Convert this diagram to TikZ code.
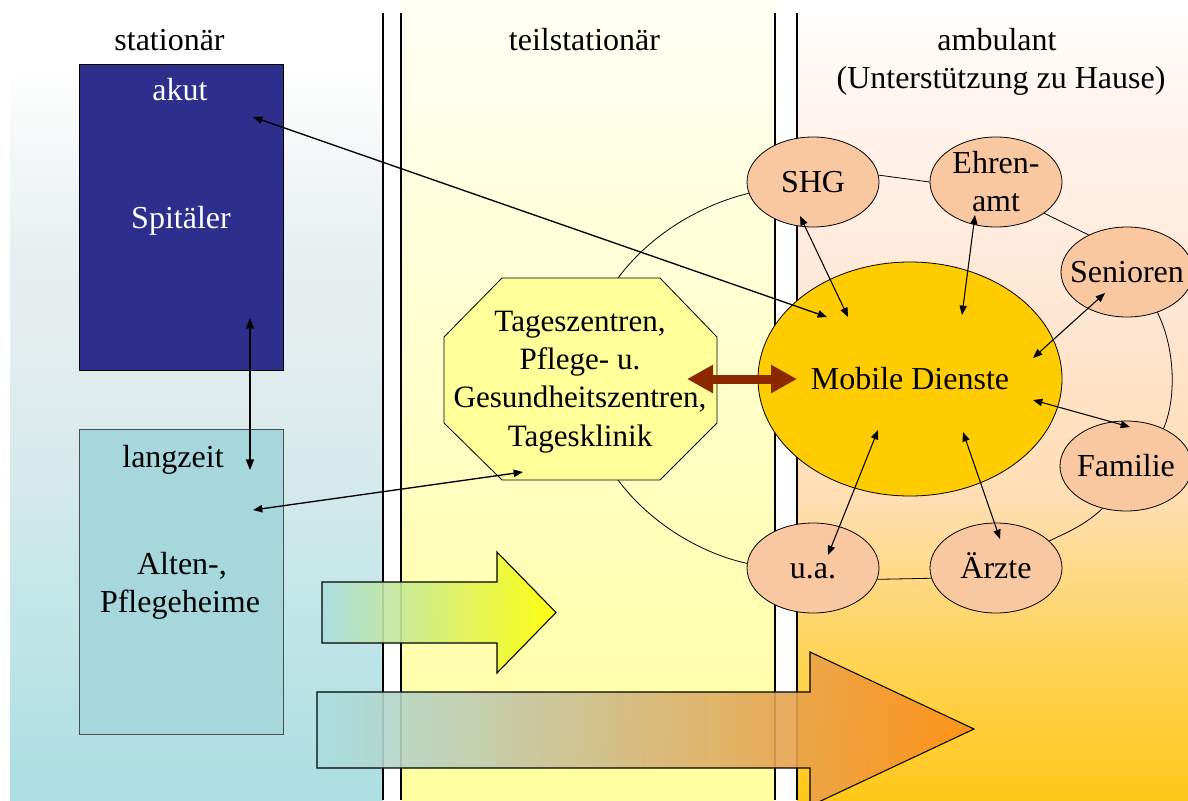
\documentclass[tikz,border=0pt]{standalone}
\usepackage{fontspec}
\setmainfont{Liberation Serif}
\usetikzlibrary{arrows.meta,shapes.geometric,calc}
\definecolor{navyc}{RGB}{46,46,140}
\definecolor{langc}{RGB}{165,215,220}
\definecolor{peachc}{RGB}{250,200,160}
\definecolor{goldc}{RGB}{255,204,0}
\definecolor{octc}{RGB}{255,255,153}
\definecolor{brownc}{RGB}{140,40,0}
\definecolor{aLeft}{RGB}{170,222,225}
\definecolor{aMid}{RGB}{215,238,195}
\definecolor{aRight}{RGB}{255,255,0}
\definecolor{bMid}{RGB}{228,205,188}
\definecolor{bRight}{RGB}{255,140,20}
% column shadings (25bp = bottom of picture, 75bp = top)
\definecolor{lA}{RGB}{172,222,226}
\definecolor{lB}{RGB}{195,230,232}
\definecolor{lC}{RGB}{220,235,236}
\definecolor{lD}{RGB}{233,239,240}
\definecolor{mA}{RGB}{255,255,160}
\definecolor{mB}{RGB}{255,255,200}
\definecolor{mC}{RGB}{255,255,245}
\definecolor{rA}{RGB}{255,200,25}
\definecolor{rB}{RGB}{255,212,90}
\definecolor{rC}{RGB}{255,222,178}
\definecolor{rD}{RGB}{255,228,205}
\definecolor{rE}{RGB}{255,245,240}
\pgfdeclareverticalshading{leftcol}{100bp}{color(0bp)=(lA); color(25bp)=(lA); color(37.5bp)=(lB); color(48.1bp)=(lC); color(59.4bp)=(lD); color(71.25bp)=(white); color(100bp)=(white)}
\pgfdeclareverticalshading{midcol}{100bp}{color(0bp)=(mA); color(25bp)=(mA); color(50bp)=(mB); color(75bp)=(mC); color(100bp)=(mC)}
\pgfdeclareverticalshading{rightcol}{100bp}{color(0bp)=(rA); color(25bp)=(rA); color(34.4bp)=(rB); color(43.75bp)=(rC); color(53.1bp)=(rD); color(68.75bp)=(rE); color(75bp)=(white); color(100bp)=(white)}
\begin{document}
\begin{tikzpicture}[x=0.75pt,y=-0.75pt,
  font=\fontsize{24}{28.5}\selectfont,
  txt/.style={inner sep=0pt, anchor=base},
  peachbase/.style={ellipse, draw=black, line width=0.6pt, fill=peachc, minimum width=99pt, minimum height=67.5pt, inner sep=0pt},
  peach/.style={peachbase, text height=16pt, text depth=0pt},
  conn/.style={line width=0.8pt, {Triangle[length=7pt,width=5.5pt]}-{Triangle[length=7pt,width=5.5pt]}},
  ring/.style={line width=0.6pt},
  sepline/.style={line width=0.8pt},
  bigarrow/.style={draw=black, line width=0.8pt, fill opacity=0.9}
]
\useasboundingbox (0,0) rectangle (1188,800);
\fill[white] (0,0) rectangle (1188,800);
\begin{scope}
\clip (0,0) rectangle (1188,800);
% column backgrounds
\shade[shading=leftcol] (10,0) rectangle (383,800);
\shade[shading=midcol] (401,0) rectangle (775,800);
\shade[shading=rightcol] (797,0) rectangle (1188,800);
% separators
\draw[sepline] (383,13) -- (383,800);
\draw[sepline] (401,13) -- (401,800);
\draw[sepline] (775,13) -- (775,800);
\draw[sepline] (797,13) -- (797,800);

% headers
\node[txt] (h1) at (169.5,50) {stationär};
\node[txt] (h2) at (584.5,50) {teilstationär};
\node[txt] (h3) at (997,50) {ambulant};
\node[txt] (h4) at (1001,88) {(Unterstützung zu Hause)};

% left boxes
\node[draw=black, line width=0.6pt, fill=navyc, minimum width=153pt, minimum height=229.5pt, inner sep=0pt] (akut) at (181,217) {};
\node[txt, text=white] (akutT) at (180,100) {akut};
\node[txt, text=white] (spit) at (181,228) {Spitäler};
\node[draw=gray!60!black, line width=0.6pt, fill=langc, minimum width=153pt, minimum height=228.75pt, inner sep=0pt] (lang) at (181,581.5) {};
\node[txt] (langT) at (173,467) {langzeit};
\node[txt] (alten) at (182,574) {Alten-,};
\node[txt] (pflege) at (180,612) {Pflegeheime};

% big arrows
\shade[bigarrow, left color=aLeft, middle color=aMid, right color=aRight]
  (322,582) -- (497,582) -- (497,552) -- (556,612.5) -- (497,673) -- (497,643) -- (322,643) -- cycle;
\shade[bigarrow, left color=aLeft, middle color=bMid, right color=bRight]
  (317,692) -- (810,692) -- (810,652) -- (974,729) -- (810,806) -- (810,768) -- (317,768) -- cycle;

% octagon
\coordinate (octT) at (618,278);
\coordinate (octB) at (618,480);
\draw[line width=0.6pt, fill=octc] (502,278) -- (660,278) -- (717,337) -- (717,423) -- (660,480) -- (502,480) -- (444,423) -- (444,337) -- cycle;
\node[inner sep=0pt, align=center, font=\fontsize{23.3}{28.7}\selectfont] (oct) at (580,382) {Tageszentren,\\Pflege- u.\\Gesundheitszentren,\\Tagesklinik};

% Mobile Dienste
\node[ellipse, draw=black, line width=0.6pt, fill=goldc, minimum width=228pt, minimum height=175.5pt, inner sep=0pt, text height=16pt, text depth=0pt] (mob) at (910,379) {\makebox[0pt]{Mobile Dienste}};

% peach ellipses
\node[peach] (shg) at (813,182) {\makebox[0pt]{SHG}};
\node[peachbase, align=center] (ehren) at (996,182) {Ehren-\\amt};
\node[peach] (sen) at (1127,272) {\makebox[0pt]{Senioren}};
\node[peach] (fam) at (1126,466) {\makebox[0pt]{Familie}};
\node[peach] (arzt) at (996,568) {\makebox[0pt]{Ärzte}};
\node[peach] (ua) at (813,568) {\makebox[0pt]{u.a.}};

% ring
\draw[ring] (shg.6) -- (ehren.180);
\draw[ring] (ehren.-33) -- (sen.136);
\draw[ring] (sen.-53) .. controls (1176,350) and (1176,400) .. (fam.45);
\draw[ring] (fam.-119) .. controls (1085,525) and (1068,532) .. (arzt.27);
\draw[ring] (arzt.189) -- (ua.-10);
\draw[ring] (ua.176) .. controls (700,553) and (650,523) .. (octB);
\draw[ring] (shg.190) .. controls (700,205) and (650,235) .. (octT);

% brown double arrow
\coordinate (brL) at (687,379);
\coordinate (brR) at (797,379);
\draw[brownc, line width=6.75pt, {Triangle[length=19.5pt,width=20pt]}-{Triangle[length=19.5pt,width=20pt]}] (brL) -- (brR);

% connectors
\coordinate (vA) at (250,318);
\coordinate (vB) at (250,470);
\draw[line width=1.2pt, {Triangle[length=8pt,width=6pt]}-{Triangle[length=8pt,width=6pt]}] (vA) -- (vB);
\coordinate (akA) at (253,117);
\coordinate (mbA) at (827,317);
\draw[conn, line width=1pt] (akA) -- (mbA);
\coordinate (lgA) at (253,510);
\coordinate (ocA) at (523,472);
\draw[conn, line width=1pt] (lgA) -- (ocA);
\coordinate (shgA) at (800,216);
\coordinate (mbS) at (848,317);
\draw[conn] (shgA) -- (mbS);
\coordinate (ehA) at (975,215);
\coordinate (mbE) at (962,315);
\draw[conn] (ehA) -- (mbE);
\coordinate (seA) at (1105,293);
\coordinate (mbSe) at (1033,358);
\draw[conn] (seA) -- (mbSe);
\coordinate (faA) at (1130,427);
\coordinate (mbF) at (1033,400);
\draw[conn] (faA) -- (mbF);
\coordinate (arA) at (1000,539);
\coordinate (mbAr) at (963,432);
\draw[conn] (arA) -- (mbAr);
\coordinate (uaA) at (828,555);
\coordinate (mbU) at (878,430);
\draw[conn] (uaA) -- (mbU);
\end{scope}
\end{tikzpicture}
\end{document}
